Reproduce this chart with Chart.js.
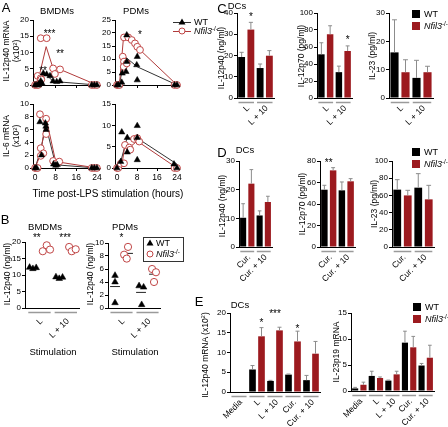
<!DOCTYPE html>
<html>
<head>
<meta charset="utf-8">
<script src="https://cdn.jsdelivr.net/npm/chart.js@4.4.1/dist/chart.umd.min.js"></script>
<style>
  body { margin: 0; background: #fff; }
  #fig { position: relative; width: 448px; height: 427px; overflow: hidden; font-family: Arial, "Liberation Sans", sans-serif; color: #000; }
  #fig canvas { position: absolute; }
  .t { position: absolute; white-space: nowrap; line-height: 1.15; }
  .t sup { font-size: 70%; line-height: 0; vertical-align: 0.45em; }
  .sw { position: absolute; width: 8px; height: 8px; }
</style>
</head>
<body>
<div id="fig"></div>
<script>
const FONT = 'Arial, "Liberation Sans", sans-serif';
const RED = '#9c1a1f';
const RED_PT = '#c04545';
const RED_LINE = '#b03a3a';
const KO = '<i>Nfil3</i><sup>-/-</sup>';

// ---------- A: mRNA time course after LPS (hours) ----------
const hourTicks = [0, 8, 16, 24];

const a12BmWtX = [0, 0.7, 1.4, 1.5, 2.2, 2.7, 3.2, 4.5, 5.8, 7, 8.4, 9.7, 22, 23, 24];
const a12BmWtY = [0, 0, 0, 0.3, 1.2, 0.5, 3.6, 3.3, 2.8, 1.2, 1.0, 1.2, 0, 0, 0];
const a12BmKoX = [0, 0.6, 1.2, 1, 2.2, 2.4, 2.2, 4.5, 7, 7.7, 9.7, 22, 23, 24];
const a12BmKoY = [0, 0, 0, 2.8, 2.1, 1.7, 14.4, 14.4, 5.1, 3.4, 4.8, 0, 0, 0];
const a12BmWtMeanX = [0, 2, 3.3, 7, 24];
const a12BmWtMeanY = [0, 0.7, 4, 1.1, 0];
const a12BmKoMeanX = [0, 1.5, 4.3, 7, 9.7, 24];
const a12BmKoMeanY = [0, 2.4, 11.8, 5.1, 4.8, 0];

const a12PdWtX = [0, 0.6, 1.9, 2.1, 3.6, 3.9, 3.9, 8.1, 7.9, 8.1, 23, 24];
const a12PdWtY = [0, 0, 1, 4.5, 5.1, 9, 19.2, 10.9, 7.7, 1.9, 0, 0];
const a12PdKoX = [0, 0.5, 1, 2.3, 2.8, 2.7, 3.9, 2.8, 4.5, 5.9, 7.2, 8.1, 9.2, 23, 24];
const a12PdKoY = [0, 0, 0, 10.9, 9, 7, 8.3, 18.3, 18.3, 17.3, 16, 14.7, 13.5, 0, 0];
const a12PdWtMeanX = [0, 1, 3.2, 8.1, 24];
const a12PdWtMeanY = [0, 0.5, 10.9, 7.0, 0];
const a12PdKoMeanX = [0, 1, 2.6, 4.5, 9.2, 24];
const a12PdKoMeanY = [0, 0.5, 18.3, 18.3, 13.5, 0];

const a6BmWtX = [0, 0.6, 1.9, 2.5, 4, 4.2, 4.3, 7.2, 8, 8.6, 22, 23, 24];
const a6BmWtY = [0, 0, 7.2, 2, 7, 6.5, 6, 0.6, 0.4, 0.5, 0, 0, 0];
const a6BmKoX = [0, 0.6, 1, 1.9, 2.2, 3.2, 2.2, 4.3, 4.3, 7, 8.1, 9.4, 22, 23, 24];
const a6BmKoY = [0, 0, 0, 8.4, 3.1, 2.3, 1.9, 7.7, 5.3, 1.1, 0.7, 1, 0, 0, 0];
const a6BmWtMeanX = [0, 2, 4.2, 8, 24];
const a6BmWtMeanY = [0, 2.5, 6.6, 0.5, 0];
const a6BmKoMeanX = [0, 2, 4.3, 8, 24];
const a6BmKoMeanY = [0, 2.0, 7.8, 1, 0];

const a6PdWtX = [0, 1.5, 1.9, 4.1, 4.1, 8.1, 8.1, 8.1, 22.8, 24];
const a6PdWtY = [0, 1.5, 8.4, 7.1, 3.7, 9.9, 7.1, 1.9, 0.9, 0];
const a6PdKoX = [0, 0.5, 1.5, 2.8, 3.2, 4.9, 5.3, 6.8, 8.1, 8.9, 23, 24];
const a6PdKoY = [0, 0, 1, 1.1, 5.4, 4.8, 4.3, 6.8, 7, 6.2, 0, 0];
const a6PdWtMeanX = [0, 1.5, 4, 8.1, 24];
const a6PdWtMeanY = [0, 1.5, 7, 7, 0.9];
const a6PdKoMeanX = [0, 2, 3.2, 4.9, 8.1, 24];
const a6PdKoMeanY = [0, 0.9, 5.5, 4.8, 6.3, 0];

// ---------- B: IL-12p40 protein, dots (x = slot 1..4) ----------
const bGroups = ['L', 'L + 10'];
const bBmWtX = [0.75, 1, 1.25, 2.75, 3, 3.25];
const bBmWtY = [12.3, 11.9, 12.2, 9.4, 8.9, 9.3];
const bBmKoX = [1.75, 2.05, 2.3, 3.75, 3.95, 4.25];
const bBmKoY = [17.2, 19.0, 17.7, 18.5, 17.2, 17.8];
const bBmWtMean = [12.1, 9.2];
const bBmKoMean = [17.9, 17.8];
const bPdWtX = [1, 1, 1, 2.85, 3.2, 3.05];
const bPdWtY = [5.0, 4.0, 0.8, 3.4, 3.2, 0.5];
const bPdKoX = [1.7, 2.0, 1.9, 3.85, 4.15, 4.0];
const bPdKoY = [8.2, 9.4, 7.6, 6.0, 5.5, 4.0];
const bPdWtMean = [3.3, 2.4];
const bPdKoMean = [8.4, 5.2];

// ---------- C/D/E: DC bars (mean, sd) ----------
const cCats = ['L', 'L + 10'];
const c12p40Wt = [19.3, 14.1], c12p40WtSd = [2.2, 1.9];
const c12p40Ko = [32.2, 19.9], c12p40KoSd = [3.4, 2.4];
const c12p70Wt = [51.4, 30.4], c12p70WtSd = [13.6, 7.1];
const c12p70Ko = [75, 55.3], c12p70KoSd = [10, 6];
const c23Wt = [16.1, 7.1], c23WtSd = [11.5, 6.2];
const c23Ko = [9.1, 9.1], c23KoSd = [4.4, 2.1];

const dCats = ['Cur.', 'Cur. + 10'];
const d12p40Wt = [10.2, 11], d12p40WtSd = [4.9, 1.6];
const d12p40Ko = [22.1, 15.7], d12p40KoSd = [4.9, 2];
const d12p70Wt = [53.3, 52.7], d12p70WtSd = [4.1, 7.8];
const d12p70Ko = [71.3, 61.1], d12p70KoSd = [2.5, 2.5];
const d23Wt = [66.7, 69], d23WtSd = [11.6, 16.3];
const d23Ko = [60, 55.4], d23KoSd = [5.9, 16.3];

const eCats = ['Media', 'L', 'L + 10', 'Cur.', 'Cur. + 10'];
const e12p40Wt = [0, 5.7, 2.8, 4.4, 3.0], e12p40WtSd = [0, 1.0, 0.15, 0.15, 1.2];
const e12p40Ko = [0, 14.1, 15.6, 12.8, 9.7], e12p40KoSd = [0, 2.2, 0.8, 2.6, 3.1];
const e23Wt = [0.5, 2.9, 2.0, 9.3, 4.9], e23WtSd = [0.2, 0.9, 0.1, 2.2, 0.4];
const e23Ko = [1.2, 2.5, 3.2, 8.4, 6.4], e23KoSd = [0.5, 0.2, 0.6, 2.1, 2.4];

// ------------------------------------------------------------
const fig = document.getElementById('fig');
const PL = 24, PT = 12, PR = 8, PB = 40;
const TICK = 8;

const pts = (xs, ys) => xs.map((x, i) => ({ x, y: ys[i] }));

function txt(html, x, y, o = {}) {
  const d = document.createElement('div');
  d.className = 't';
  d.innerHTML = html;
  d.style.left = x + 'px';
  d.style.top = y + 'px';
  d.style.fontSize = (o.size || 8.5) + 'px';
  d.style.textAlign = 'center';
  d.style.transform = `translate(${o.left ? '0' : '-50%'},-50%)` + (o.rot ? ' rotate(-90deg)' : '');
  fig.appendChild(d);
}

function makeChart(box, cfg) {
  const c = document.createElement('canvas');
  c.width = box.r - box.l + PL + PR;
  c.height = box.b - box.t + PT + PB;
  c.style.left = (box.l - PL) + 'px';
  c.style.top = (box.t - PT) + 'px';
  fig.appendChild(c);
  const o = cfg.options;
  o.responsive = false;
  o.animation = false;
  o.events = [];
  o.devicePixelRatio = 1;
  o.layout = { padding: { top: PT, right: PR, left: 0, bottom: 0 } };
  o.plugins = { legend: { display: false }, tooltip: { enabled: false } };
  return new Chart(c, cfg);
}

function yAxis(max, step) {
  return {
    type: 'linear', min: 0, max: max,
    ticks: { stepSize: step, color: '#000', font: { size: TICK, family: FONT }, padding: 1 },
    grid: { drawOnChartArea: false, color: '#000', tickLength: 3 },
    border: { color: '#000', width: 1 },
    afterFit: s => { s.width = PL; }
  };
}

// grey error bar on top of each bar
const errLayer = {
  id: 'err',
  afterDatasetsDraw(chart) {
    const ctx = chart.ctx, y = chart.scales.y;
    ctx.save();
    ctx.strokeStyle = '#8c8c8c';
    ctx.lineWidth = 1;
    chart.data.datasets.forEach((ds, di) => {
      chart.getDatasetMeta(di).data.forEach((bar, i) => {
        if (!ds.err[i]) return;
        const top = y.getPixelForValue(ds.data[i] + ds.err[i]);
        const w = bar.width * 0.3;
        ctx.beginPath();
        ctx.moveTo(bar.x, bar.y); ctx.lineTo(bar.x, top);
        ctx.moveTo(bar.x - w, top); ctx.lineTo(bar.x + w, top);
        ctx.stroke();
      });
    });
    ctx.restore();
  }
};

// grey group bars under the axis + 45 degree labels
function groupLayer(items, dy) {
  return {
    id: 'groups',
    afterDraw(chart) {
      const x = chart.scales.x, ctx = chart.ctx, b = chart.chartArea.bottom;
      ctx.save();
      ctx.font = `8.5px ${FONT}`;
      ctx.fillStyle = '#000';
      items.forEach(g => {
        const a = x.getPixelForValue(g.from), e = x.getPixelForValue(g.to);
        ctx.strokeStyle = '#9a9a9a';
        ctx.lineWidth = 1.5;
        ctx.beginPath(); ctx.moveTo(a, b + 4.5); ctx.lineTo(e, b + 4.5); ctx.stroke();
        ctx.save();
        ctx.translate((a + e) / 2 + 2, b + dy);
        ctx.rotate(-Math.PI / 4);
        ctx.textAlign = 'right';
        ctx.textBaseline = 'middle';
        ctx.fillText(g.label, 0, 0);
        ctx.restore();
      });
      ctx.restore();
    }
  };
}

function starLayer(items) {
  return {
    id: 'stars',
    afterDraw(chart) {
      const ctx = chart.ctx;
      ctx.save();
      ctx.font = `10px ${FONT}`;
      ctx.fillStyle = '#000';
      ctx.textAlign = 'center';
      ctx.textBaseline = 'middle';
      items.forEach(s => {
        const px = s.ds !== undefined ? chart.getDatasetMeta(s.ds).data[s.i].x : chart.scales.x.getPixelForValue(s.x);
        ctx.fillText(s.t, px, chart.scales.y.getPixelForValue(s.y) + 2);
      });
      ctx.restore();
    }
  };
}

const wtStyle = { pointStyle: 'triangle', pointRadius: 3.6, backgroundColor: '#000', borderColor: '#000', borderWidth: 0.5, clip: false };
const koStyle = { pointStyle: 'circle', pointRadius: 3.4, backgroundColor: '#fff', borderColor: RED_PT, borderWidth: 1, clip: false };

function timeChart(box, o) {
  return makeChart(box, {
    type: 'scatter',
    data: { datasets: [
      Object.assign({ data: pts(o.wt[0], o.wt[1]) }, wtStyle),
      Object.assign({ data: pts(o.ko[0], o.ko[1]) }, koStyle),
      { data: pts(o.koMean[0], o.koMean[1]), showLine: true, pointRadius: 0, borderColor: RED_LINE, borderWidth: 1, clip: false },
      { data: pts(o.wtMean[0], o.wtMean[1]), showLine: true, pointRadius: 0, borderColor: '#333', borderWidth: 1, clip: false },
    ]},
    options: {
      scales: {
        x: {
          type: 'linear', min: o.xMin, max: o.xMax,
          afterBuildTicks: s => { s.ticks = hourTicks.map(v => ({ value: v })); },
          ticks: { display: o.showX, autoSkip: false, maxRotation: 0, color: '#000', font: { size: 8.5, family: FONT }, padding: 2 },
          grid: { drawOnChartArea: false, color: '#000', tickLength: 3 },
          border: { color: '#000', width: 1 },
          afterFit: s => { s.height = PB; }
        },
        y: yAxis(o.yMax, o.yStep)
      }
    },
    plugins: [starLayer(o.stars || [])]
  });
}

function dotChart(box, o) {
  const centersWt = [1, 3], centersKo = [2, 4];
  const segs = (cs, ms) => cs.flatMap((c, i) => [{ x: c - 0.38, y: ms[i] }, { x: c + 0.38, y: ms[i] }, { x: c, y: null }]);
  return makeChart(box, {
    type: 'scatter',
    data: { datasets: [
      Object.assign({ data: pts(o.wt[0], o.wt[1]) }, wtStyle, { pointRadius: 3.8 }),
      Object.assign({ data: pts(o.ko[0], o.ko[1]) }, koStyle, { pointRadius: 3.6 }),
      { data: segs(centersWt, o.wtMean), showLine: true, pointRadius: 0, borderColor: '#222', borderWidth: 1, clip: false },
      { data: segs(centersKo, o.koMean), showLine: true, pointRadius: 0, borderColor: '#222', borderWidth: 1, clip: false },
    ]},
    options: {
      scales: {
        x: { type: 'linear', min: o.xMin, max: o.xMax, ticks: { display: false }, grid: { drawOnChartArea: false, drawTicks: false }, border: { color: '#000', width: 1 }, afterFit: s => { s.height = PB; } },
        y: yAxis(o.yMax, o.yStep)
      }
    },
    plugins: [groupLayer(bGroups.map((g, i) => ({ from: 1.5 + 2 * i - 0.85, to: 1.5 + 2 * i + 0.85, label: g })), 12), starLayer(o.stars || [])]
  });
}

function barChart(box, o) {
  return makeChart(box, {
    type: 'bar',
    data: { labels: o.cats, datasets: [
      { data: o.wt, err: o.wtSd, backgroundColor: '#000' },
      { data: o.ko, err: o.koSd, backgroundColor: RED },
    ]},
    options: {
      datasets: { bar: { barPercentage: 0.74, categoryPercentage: 1 } },
      scales: {
        x: { type: 'category', offset: true, ticks: { display: false }, grid: { drawOnChartArea: false, drawTicks: false }, border: { color: '#000', width: 1 }, afterFit: s => { s.height = PB; } },
        y: yAxis(o.yMax, o.yStep)
      }
    },
    plugins: [errLayer, groupLayer(o.cats.map((c, i) => ({ from: i - 0.42, to: i + 0.42, label: c })), 9), starLayer(o.stars || [])]
  });
}

// ---------- panel A ----------
timeChart({ l: 33, t: 20, r: 100, b: 85 }, {
  xMin: -0.8, xMax: 25.2, yMax: 20, yStep: 5, showX: false,
  wt: [a12BmWtX, a12BmWtY], ko: [a12BmKoX, a12BmKoY],
  wtMean: [a12BmWtMeanX, a12BmWtMeanY], koMean: [a12BmKoMeanX, a12BmKoMeanY],
  stars: [{ x: 5.6, y: 16.3, t: '***' }, { x: 9.7, y: 10.2, t: '**' }, { x: 3.1, y: 4.9, t: '**' }]
});
timeChart({ l: 115, t: 20, r: 179, b: 85 }, {
  xMin: -0.8, xMax: 24.8, yMax: 25, yStep: 5, showX: false,
  wt: [a12PdWtX, a12PdWtY], ko: [a12PdKoX, a12PdKoY],
  wtMean: [a12PdWtMeanX, a12PdWtMeanY], koMean: [a12PdKoMeanX, a12PdKoMeanY],
  stars: [{ x: 9.2, y: 20, t: '*' }]
});
timeChart({ l: 33, t: 104, r: 100, b: 168 }, {
  xMin: -0.8, xMax: 25.2, yMax: 10, yStep: 2, showX: true,
  wt: [a6BmWtX, a6BmWtY], ko: [a6BmKoX, a6BmKoY],
  wtMean: [a6BmWtMeanX, a6BmWtMeanY], koMean: [a6BmKoMeanX, a6BmKoMeanY]
});
timeChart({ l: 115, t: 104, r: 179, b: 168 }, {
  xMin: -0.8, xMax: 24.8, yMax: 15, yStep: 5, showX: true,
  wt: [a6PdWtX, a6PdWtY], ko: [a6PdKoX, a6PdKoY],
  wtMean: [a6PdWtMeanX, a6PdWtMeanY], koMean: [a6PdKoMeanX, a6PdKoMeanY]
});

// ---------- panel B ----------
dotChart({ l: 25, t: 242, r: 79, b: 308 }, {
  xMin: 0.4, xMax: 4.5, yMax: 20, yStep: 5,
  wt: [bBmWtX, bBmWtY], ko: [bBmKoX, bBmKoY], wtMean: bBmWtMean, koMean: bBmKoMean,
  stars: [{ x: 1.3, y: 21.6, t: '**' }, { x: 3.45, y: 21.6, t: '***' }]
});
dotChart({ l: 108, t: 243, r: 160, b: 308 }, {
  xMin: 0.46, xMax: 4.46, yMax: 10, yStep: 2,
  wt: [bPdWtX, bPdWtY], ko: [bPdKoX, bPdKoY], wtMean: bPdWtMean, koMean: bPdKoMean,
  stars: [{ x: 1.5, y: 11, t: '*' }]
});

// ---------- panels C, D, E ----------
barChart({ l: 237, t: 13, r: 274, b: 98 }, { cats: cCats, yMax: 40, yStep: 10, wt: c12p40Wt, wtSd: c12p40WtSd, ko: c12p40Ko, koSd: c12p40KoSd, stars: [{ ds: 1, i: 0, y: 39, t: '*' }] });
barChart({ l: 317, t: 13, r: 352, b: 98 }, { cats: cCats, yMax: 100, yStep: 20, wt: c12p70Wt, wtSd: c12p70WtSd, ko: c12p70Ko, koSd: c12p70KoSd, stars: [{ ds: 1, i: 1, y: 70, t: '*' }] });
barChart({ l: 389, t: 13, r: 433, b: 98 }, { cats: cCats, yMax: 30, yStep: 10, wt: c23Wt, wtSd: c23WtSd, ko: c23Ko, koSd: c23KoSd });

barChart({ l: 239, t: 161, r: 272, b: 247 }, { cats: dCats, yMax: 30, yStep: 10, wt: d12p40Wt, wtSd: d12p40WtSd, ko: d12p40Ko, koSd: d12p40KoSd });
barChart({ l: 320, t: 161, r: 355, b: 247 }, { cats: dCats, yMax: 80, yStep: 20, wt: d12p70Wt, wtSd: d12p70WtSd, ko: d12p70Ko, koSd: d12p70KoSd, stars: [{ x: 0, y: 80, t: '**' }] });
barChart({ l: 392, t: 161, r: 434, b: 247 }, { cats: dCats, yMax: 100, yStep: 20, wt: d23Wt, wtSd: d23WtSd, ko: d23Ko, koSd: d23KoSd });

barChart({ l: 230, t: 313, r: 320, b: 392 }, { cats: eCats, yMax: 20, yStep: 5, wt: e12p40Wt, wtSd: e12p40WtSd, ko: e12p40Ko, koSd: e12p40KoSd,
  stars: [{ ds: 1, i: 1, y: 17.8, t: '*' }, { x: 2, y: 20.1, t: '***' }, { ds: 1, i: 3, y: 16.5, t: '*' }] });
barChart({ l: 351, t: 313, r: 434, b: 391 }, { cats: eCats, yMax: 15, yStep: 5, wt: e23Wt, wtSd: e23WtSd, ko: e23Ko, koSd: e23KoSd });

// ---------- text ----------
txt('A', 6, 8, { size: 13 });
txt('BMDMs', 57, 11, { size: 9.5 });
txt('PDMs', 136, 11, { size: 9.5 });
txt('IL-12p40 mRNA<br>(x10<sup>2</sup>)', 12, 51, { rot: true });
txt('IL-6 mRNA<br>(x10<sup>2</sup>)', 12, 136, { rot: true });
txt('Time post-LPS stimulation (hours)', 108, 194, { size: 10 });

txt('B', 5, 220, { size: 13 });
txt('BMDMs', 45, 227, { size: 9.5 });
txt('PDMs', 125, 227, { size: 9.5 });
txt('IL-12p40 (ng/ml)', 8, 274, { rot: true });
txt('IL-12p40 (ng/ml)', 91, 274, { rot: true });
txt('Stimulation', 53, 352, { size: 9.5 });
txt('Stimulation', 135, 352, { size: 9.5 });

txt('C', 222, 9, { size: 13 });
txt('DCs', 237, 6, { size: 9.5 });
txt('IL-12p40 (ng/ml)', 222, 58, { rot: true });
txt('IL-12p70 (pg/ml)', 302, 56, { rot: true });
txt('IL-23 (pg/ml)', 373, 56, { rot: true });

txt('D', 222, 153, { size: 13 });
txt('DCs', 245, 150, { size: 9.5 });
txt('IL-12p40 (ng/ml)', 223, 206, { rot: true });
txt('IL-12p70 (pg/ml)', 303, 204, { rot: true });
txt('IL-23 (pg/ml)', 375, 204, { rot: true });

txt('E', 199, 302, { size: 13 });
txt('DCs', 240, 305, { size: 9.5 });
txt('IL-12p40 mRNA (x10<sup>2</sup>)', 206, 355, { rot: true });
txt('IL-23p19 mRNA', 337, 352, { rot: true });

// legends
function squareLegend(x, y) {
  [['#000', 'WT'], [RED, KO]].forEach(([c, label], k) => {
    const s = document.createElement('div');
    s.className = 'sw';
    s.style.background = c;
    s.style.left = x + 'px';
    s.style.top = (y + k * 12) + 'px';
    fig.appendChild(s);
    txt(label, x + 12, y + 4 + k * 12, { left: true, size: 9 });
  });
}
squareLegend(412, 10);
squareLegend(412, 148);
squareLegend(413, 303);

const triSvg = '<svg width="8" height="7" style="display:block"><polygon points="4,0.5 7.5,6.5 0.5,6.5" fill="#000"/></svg>';
const circSvg = '<svg width="8" height="8" style="display:block"><circle cx="4" cy="4" r="3" fill="#fff" stroke="' + RED_PT + '" stroke-width="1"/></svg>';
function markerLegend(x, y, dy, withLine) {
  [[triSvg, '#333', 'WT'], [circSvg, RED_LINE, KO]].forEach(([svg, col, label], k) => {
    const yy = y + k * dy;
    if (withLine) {
      const ln = document.createElement('div');
      ln.style.cssText = `position:absolute;left:${x - 5}px;top:${yy}px;width:18px;height:1px;background:${col}`;
      fig.appendChild(ln);
    }
    const m = document.createElement('div');
    m.style.cssText = `position:absolute;left:${x}px;top:${yy - 4}px;`;
    m.innerHTML = svg;
    fig.appendChild(m);
    txt(label, x + (withLine ? 16 : 10), yy, { left: true, size: 9 });
  });
}
markerLegend(178, 22, 9, true);

const box = document.createElement('div');
box.style.cssText = 'position:absolute;left:143px;top:237px;width:39px;height:23px;border:1px solid #333;';
fig.appendChild(box);
markerLegend(146, 243, 11, false);
</script>
</body>
</html>
